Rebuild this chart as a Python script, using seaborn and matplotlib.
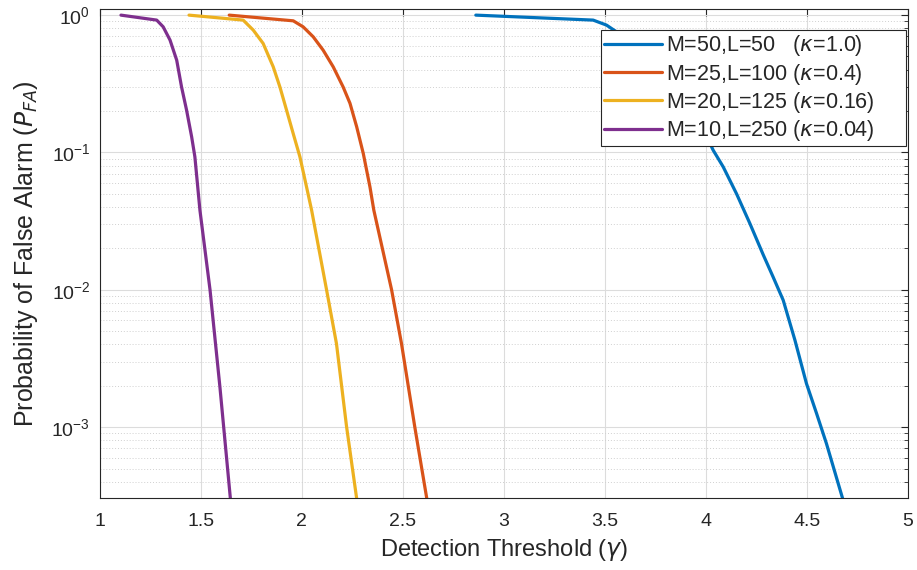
import numpy as np
import pandas as pd
import matplotlib
matplotlib.use("Agg")
import matplotlib.pyplot as plt
import seaborn as sns
from matplotlib.ticker import LogLocator, NullFormatter, FixedLocator, FixedFormatter

labels = [r"M=50,L=50   ($\kappa$=1.0)",
          r"M=25,L=100 ($\kappa$=0.4)",
          r"M=20,L=125 ($\kappa$=0.16)",
          r"M=10,L=250 ($\kappa$=0.04)"]
colors = ["#0072BD", "#D95319", "#EDB120", "#7E2F8E"]

x_m50 = [2.861, 3.442, 3.508, 3.558, 3.612, 3.697, 3.783, 3.867, 3.925, 3.982, 4.036, 4.086,
         4.152, 4.218, 4.284, 4.333, 4.383, 4.441, 4.498, 4.548, 4.597, 4.675, 4.694]
y_m50 = [1.0, 0.920, 0.846, 0.755, 0.695, 0.556, 0.42, 0.30, 0.228, 0.154, 0.104, 0.0785,
         0.050, 0.0304, 0.018, 0.0124, 0.0084, 0.0043, 0.00208, 0.00126, 0.00076, 0.00031, 0.00025]

x_m25 = [1.64, 1.957, 2.006, 2.056, 2.105, 2.155, 2.204, 2.238, 2.271, 2.304, 2.337, 2.356,
         2.444, 2.493, 2.559, 2.617, 2.628]
y_m25 = [1.0, 0.909, 0.822, 0.695, 0.556, 0.420, 0.300, 0.228, 0.154, 0.098, 0.056, 0.038,
         0.01, 0.00406, 0.001, 0.00031, 0.00025]

x_m20 = [1.441, 1.709, 1.759, 1.808, 1.858, 1.891, 1.924, 1.957, 1.990, 2.023, 2.048,
         2.122, 2.171, 2.221, 2.27, 2.279]
y_m20 = [1.0, 0.920, 0.778, 0.622, 0.420, 0.300, 0.203, 0.137, 0.093, 0.056, 0.038,
         0.01, 0.00406, 0.00101, 0.00031, 0.00025]

x_m10 = [1.104, 1.281, 1.313, 1.347, 1.380, 1.404, 1.429, 1.454, 1.470, 1.495,
         1.545, 1.594, 1.646, 1.651]
y_m10 = [1.0, 0.920, 0.822, 0.658, 0.470, 0.300, 0.203, 0.130, 0.093, 0.038,
         0.01, 0.00196, 0.00030, 0.00025]

xs = [x_m50, x_m25, x_m20, x_m10]
ys = [y_m50, y_m25, y_m20, y_m10]

xticks = [1, 1.5, 2, 2.5, 3, 3.5, 4, 4.5, 5]
xticklabels = ["1", "1.5", "2", "2.5", "3", "3.5", "4", "4.5", "5"]

frames = []
for lab, x, y in zip(labels, xs, ys):
    frames.append(pd.DataFrame({"gamma": x, "pfa": y, "series": lab}))
df = pd.concat(frames, ignore_index=True)

sns.set_style("white")
plt.rcParams["font.family"] = ["Liberation Sans", "DejaVu Sans"]
plt.rcParams["mathtext.fontset"] = "dejavusans"

fig = plt.figure(figsize=(9.17, 5.7), dpi=100)
ax = fig.add_axes([0.109, 0.126, 0.881, 0.858])

sns.lineplot(data=df, x="gamma", y="pfa", hue="series", hue_order=labels,
             palette=colors, estimator=None, sort=False, linewidth=2.3, ax=ax)

ax.set_yscale("log")
ax.set_xlim(1, 5)
ax.set_ylim(3.04e-4, 1.106)

ax.xaxis.set_major_locator(FixedLocator(xticks))
ax.xaxis.set_major_formatter(FixedFormatter(xticklabels))
ax.yaxis.set_major_locator(LogLocator(base=10, numticks=10))
ax.yaxis.set_minor_locator(LogLocator(base=10, subs=np.arange(2, 10), numticks=20))
ax.yaxis.set_minor_formatter(NullFormatter())

ax.grid(True, which="major", color="#dcdcdc", linewidth=0.8, linestyle="-")
ax.grid(True, which="minor", axis="y", color="#d0d0d0", linewidth=0.7, linestyle=(0, (1, 2)))
ax.set_axisbelow(True)

for s in ax.spines.values():
    s.set_color("#262626")
    s.set_linewidth(0.8)

ax.tick_params(which="both", direction="in", top=True, right=True, colors="#262626",
               labelsize=14, labelcolor="#262626")
ax.tick_params(which="major", length=5)
ax.tick_params(which="minor", length=3)
ax.tick_params(axis="x", pad=11)
ax.tick_params(axis="y", pad=7)

ax.set_xlabel(r"Detection Threshold ($\gamma$)", fontsize=17, color="#262626", labelpad=5)
ax.set_ylabel(r"Probability of False Alarm ($P_{FA}$)", fontsize=18, color="#262626", labelpad=8)

leg = ax.legend(loc="upper left", bbox_to_anchor=(0.620, 0.0, 0.3775, 0.957), mode="expand",
                fontsize=15.5, frameon=True, fancybox=False, edgecolor="#262626", framealpha=1,
                handlelength=2.7, borderpad=0.15, labelspacing=0.15, handletextpad=0.2,
                borderaxespad=0)
leg.get_frame().set_linewidth(0.8)

fig.savefig("out.png", dpi=100)
